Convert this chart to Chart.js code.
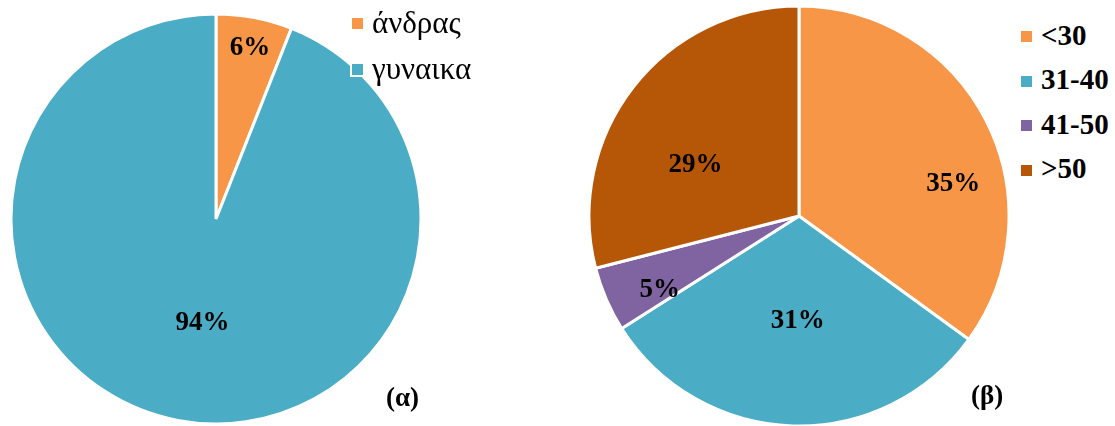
<!DOCTYPE html>
<html>
<head>
<meta charset="utf-8">
<script src="https://cdn.jsdelivr.net/npm/chart.js@4.4.0/dist/chart.umd.min.js"></script>
<style>
  html, body { margin: 0; padding: 0; background: #fff; }
  body { width: 1115px; height: 426px; position: relative; overflow: hidden; font-family: "Liberation Serif", serif; }
  .box { position: absolute; }
  .legend { position: absolute; }
  .legend .item { position: absolute; left: 0; white-space: nowrap; color: #000; }
  .legend .sw { position: absolute; left: 0; width: 11px; height: 11px; border: 2px solid #fff; }
  .legend .txt { position: absolute; left: 20px; }
  .tag { position: absolute; font-weight: bold; font-size: 27px; color: #000; }
</style>
</head>
<body>
<div class="box" style="left:6px; top:9px; width:420px; height:420px;"><canvas id="pieA"></canvas></div>
<div class="box" style="left:587px; top:4px; width:424px; height:424px;"><canvas id="pieB"></canvas></div>
<div class="legend" id="legA" style="left:350px; top:0px;"></div>
<div class="legend" id="legB" style="left:1019px; top:0px;"></div>
<div class="tag" style="left:386px; top:382px;">(α)</div>
<div class="tag" style="left:971px; top:380px;">(β)</div>
<script>
// (α) gender
var genderLabels = ['άνδρας', 'γυναικα'];
var genderValues = [6, 94];
var genderColors = ['#F79646', '#4BACC6'];

// (β) age groups
var ageLabels = ['<30', '31-40', '41-50', '>50'];
var ageValues = [35, 31, 5, 29];
var ageColors = ['#F79646', '#4BACC6', '#8064A2', '#B65708'];

// where the % text sits inside each slice: [fraction along the arc, fraction of radius]
var genderLabelPos = [[0.52, 0.85], [0.49, 0.51]];
var ageLabelPos = [[0.62, 0.75], [0.49, 0.5], [0.25, 0.75], [0.39, 0.55]];

var pctLabels = {
  id: 'pctLabels',
  afterDatasetsDraw: function(chart, args, opts) {
    var ctx = chart.ctx;
    var meta = chart.getDatasetMeta(0);
    var vals = chart.data.datasets[0].data;
    ctx.save();
    ctx.font = 'bold 27px "Liberation Serif"';
    ctx.fillStyle = '#000';
    ctx.textAlign = 'center';
    ctx.textBaseline = 'middle';
    meta.data.forEach(function(arc, i) {
      var p = arc.getProps(['x', 'y', 'startAngle', 'endAngle', 'outerRadius'], true);
      var pos = opts.pos[i];
      var a = p.startAngle + (p.endAngle - p.startAngle) * pos[0];
      var r = p.outerRadius * pos[1];
      ctx.fillText(vals[i] + '%', p.x + Math.cos(a) * r, p.y + Math.sin(a) * r);
    });
    ctx.restore();
  }
};

function makePie(id, labels, values, colors, radius, pos) {
  return new Chart(document.getElementById(id), {
    type: 'pie',
    data: {
      labels: labels,
      datasets: [{
        data: values,
        backgroundColor: colors,
        borderColor: '#fff',
        borderWidth: 3
      }]
    },
    options: {
      responsive: true,
      maintainAspectRatio: false,
      animation: false,
      radius: radius,
      plugins: {
        legend: { display: false },
        tooltip: { enabled: false },
        pctLabels: { pos: pos }
      }
    },
    plugins: [pctLabels]
  });
}

makePie('pieA', genderLabels, genderValues, genderColors, 205, genderLabelPos);
makePie('pieB', ageLabels, ageValues, ageColors, 210, ageLabelPos);

function makeLegend(id, labels, colors, top0, step, bold, size, textLeft) {
  var el = document.getElementById(id);
  labels.forEach(function(l, i) {
    var item = document.createElement('div');
    item.className = 'item';
    item.style.top = (top0 + step * i) + 'px';
    item.style.fontSize = size + 'px';
    item.style.lineHeight = size + 'px';
    if (bold) item.style.fontWeight = 'bold';
    var sw = document.createElement('div');
    sw.className = 'sw';
    sw.style.background = colors[i];
    sw.style.top = '-7px';
    var t = document.createElement('div');
    t.className = 'txt';
    t.style.left = textLeft + 'px';
    t.style.top = (-size / 2 - 1) + 'px';
    t.textContent = l;
    item.appendChild(sw);
    item.appendChild(t);
    el.appendChild(item);
  });
}
makeLegend('legA', genderLabels, genderColors, 23, 46, false, 31, 22);
makeLegend('legB', ageLabels, ageColors, 36, 44.5, true, 29, 22);
</script>
</body>
</html>
